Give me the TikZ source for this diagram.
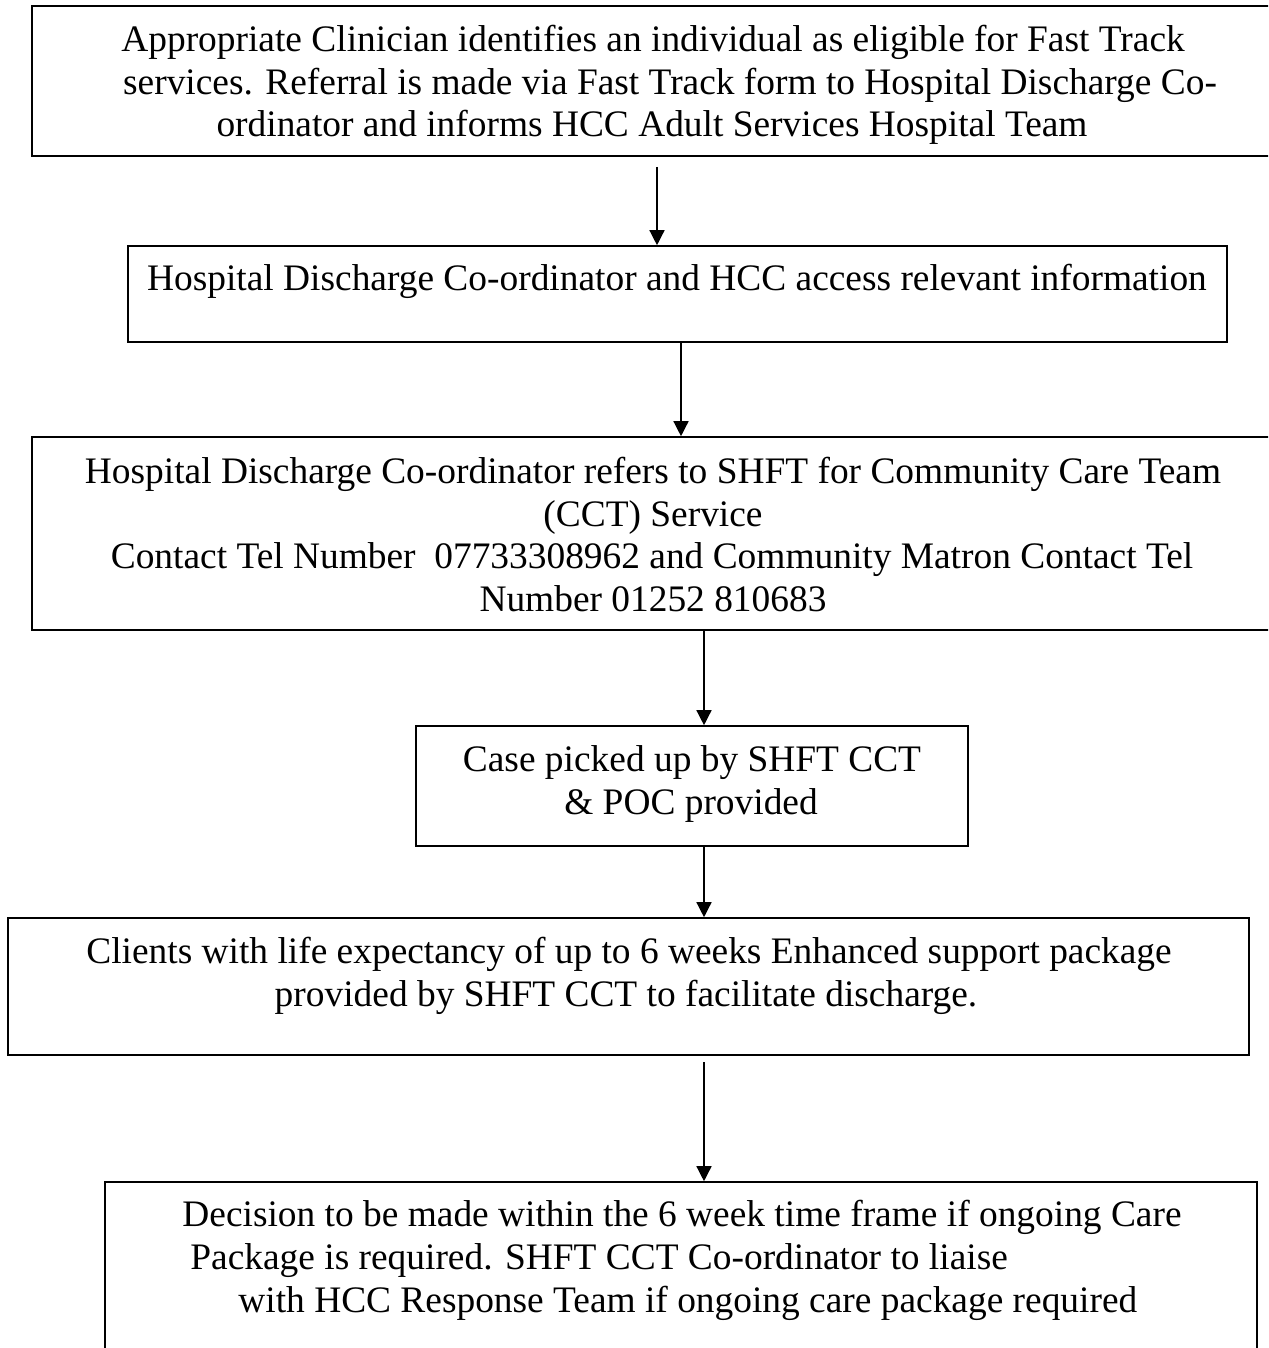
\documentclass[tikz,border=0pt]{standalone}
\usepackage{fontspec}
\setmainfont{Liberation Serif}
\usetikzlibrary{arrows.meta,fit}
\begin{document}
\begin{tikzpicture}[x=0.5pt,y=-0.5pt,
  box/.style={draw=black, line width=0.8pt, inner sep=0pt},
  txt/.style={inner sep=0pt, font=\fontsize{18.7}{22}\selectfont, anchor=base},
  txtl/.style={txt, anchor=base west},
  arr/.style={line width=0.7pt, -{Triangle[width=7.5pt,length=7.5pt]}}]
\useasboundingbox (0,0) rectangle (1268,1348);
\clip (0,0) rectangle (1268,1348);
\fill[white] (0,0) rectangle (1268,1348);

% boxes
\node[box, fit={(32,6) (1272,156)}] (b1) {};
\node[box, fit={(128,246) (1227,342)}] (b2) {};
\node[box, fit={(32,437) (1274,630)}] (b3) {};
\node[box, fit={(416,726) (968,846)}] (b4) {};
\node[box, fit={(8,918) (1249,1055)}] (b5) {};
\node[box, fit={(105,1182) (1257,1420)}] (b6) {};

% texts
\node[txt] (t1a) at (653,52) {Appropriate Clinician identifies an individual as eligible for Fast Track};
\node[txt] (t1b) at (670,94.5) {services. Referral is made via Fast Track form to Hospital Discharge Co-};
\node[txt] (t1c) at (652,137) {ordinator and informs HCC Adult Services Hospital Team};

\node[txt] (t2a) at (677,290) {Hospital Discharge Co-ordinator and HCC access relevant information};

\node[txt] (t3a) at (653,483) {Hospital Discharge Co-ordinator refers to SHFT for Community Care Team};
\node[txt] (t3b) at (653,526) {(CCT) Service};
\node[txt] (t3c) at (652,568) {Contact Tel Number\ \ 07733308962 and Community Matron Contact Tel};
\node[txt] (t3d) at (653,611) {Number 01252 810683};

\node[txt] (t4a) at (692,771) {Case picked up by SHFT CCT};
\node[txt] (t4b) at (691,814) {\& POC provided};

\node[txt] (t5a) at (629,963) {Clients with life expectancy of up to 6 weeks Enhanced support package};
\node[txt] (t5b) at (626,1006) {provided by SHFT CCT to facilitate discharge.};

\node[txtl] (t6a) at (182,1226) {Decision to be made within the 6 week time frame if ongoing Care};
\node[txtl] (t6b) at (190,1269) {Package is required. SHFT CCT Co-ordinator to liaise};
\node[txtl] (t6c) at (238,1312) {with HCC Response Team if ongoing care package required};

% connectors
\coordinate (a1s) at (657,167);
\coordinate (a2s) at (681,342);
\coordinate (a3s) at (704,630);
\coordinate (a4s) at (704,846);
\coordinate (a5s) at (704,1062);
\draw[arr] (a1s) -- (a1s |- b2.north);
\draw[arr] (a2s) -- (a2s |- b3.north);
\draw[arr] (a3s) -- (a3s |- b4.north);
\draw[arr] (a4s) -- (a4s |- b5.north);
\draw[arr] (a5s) -- (a5s |- b6.north);
\end{tikzpicture}
\end{document}
